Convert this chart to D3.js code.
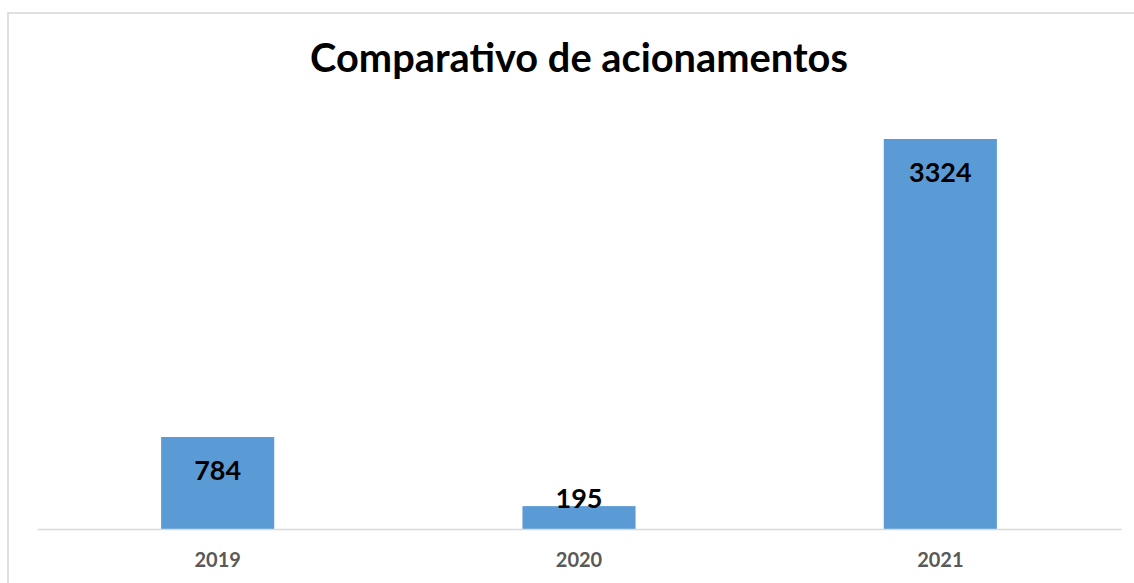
<!DOCTYPE html>
<html><head><meta charset="utf-8">
<script src="https://cdn.jsdelivr.net/npm/d3@7"></script>
<style>html,body{margin:0;padding:0;background:#fff;overflow:hidden}</style>
</head><body>
<svg id="c" width="1134" height="583"></svg>
<script>
const categories = ["2019", "2020", "2021"];
const values = [784, 195, 3324];
const title = "Comparativo de acionamentos";

const svg = d3.select("#c");
const W = 1134, H = 583;
const font = "Lato, 'Open Sans', sans-serif";

// outer chart border (extends beyond the visible frame on right/bottom)
svg.append("rect").attr("x", 8).attr("y", 13).attr("width", W + 20).attr("height", H + 20)
  .attr("fill", "#fff").attr("stroke", "#D9D9D9").attr("stroke-width", 1.6);

const x = d3.scaleBand().domain(categories).range([37, 1121])
  .paddingInner(0.687).paddingOuter(0.3435);
const y = d3.scaleLinear().domain([0, 3324]).range([529, 139]);

// bars
svg.append("g").selectAll("rect").data(values).join("rect")
  .attr("x", (d, i) => x(categories[i]))
  .attr("y", d => y(d))
  .attr("width", x.bandwidth())
  .attr("height", d => y(0) - y(d))
  .attr("fill", "#5B9BD5");

// baseline axis
const axis = d3.axisBottom(x).tickSize(0).tickPadding(0);
const ag = svg.append("g").attr("transform", `translate(0,${y(0)})`).call(axis);
ag.select(".domain").attr("stroke", "#D9D9D9").attr("stroke-width", 1.6);
ag.selectAll("text").attr("dy", null).attr("y", 38)
  .attr("font-family", font).attr("font-weight", "bold").attr("font-size", 20)
  .attr("fill", "#595959");

// value labels
svg.append("g").selectAll("text").data(values).join("text")
  .attr("x", (d, i) => x(categories[i]) + x.bandwidth() / 2)
  .attr("y", d => Math.min(y(d) + 43, y(0) - 21))
  .attr("text-anchor", "middle")
  .attr("font-family", font).attr("font-weight", "bold").attr("font-size", 27)
  .attr("fill", "#000").text(d => d);

// title
const t = svg.append("text").attr("x", 579).attr("y", 72).attr("text-anchor", "middle")
  .attr("font-family", font).attr("font-weight", "bold").attr("font-size", 36)
  .attr("fill", "#000").text(title);
const tw = t.node().getComputedTextLength();
t.attr("font-size", 36 * 538 / tw);
</script>
</body></html>
